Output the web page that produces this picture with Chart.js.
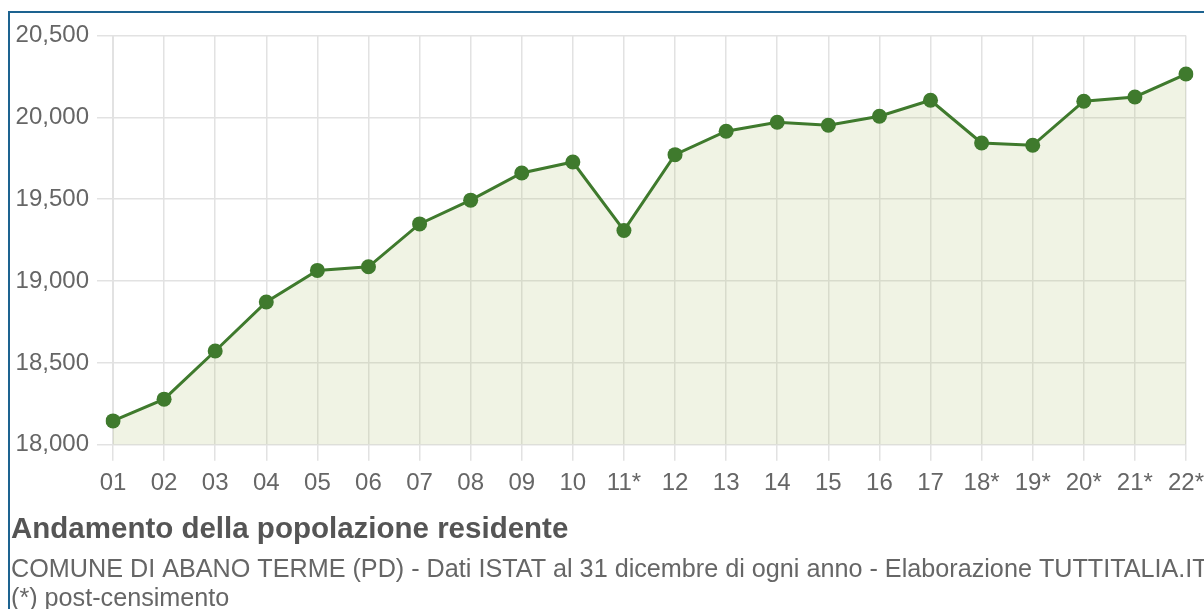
<!DOCTYPE html>
<html>
<head>
<meta charset="utf-8">
<script src="https://cdn.jsdelivr.net/npm/chart.js@4/dist/chart.umd.min.js"></script>
<style>
  html, body { margin: 0; padding: 0; background: #fff; overflow: hidden; }
  .box {
    position: absolute; left: 8px; top: 11px;
    width: 1300px; height: 700px;
    border: 2px solid #1d6390; box-sizing: border-box;
  }
  .wrap { position: absolute; left: 1px; top: 0; width: 1201px; height: 601px; }
</style>
</head>
<body>
<div class="box">
  <div class="wrap"><canvas id="popChart"></canvas></div>
</div>
<script>
var anni = ["01", "02", "03", "04", "05", "06", "07", "08", "09", "10", "11*",
            "12", "13", "14", "15", "16", "17", "18*", "19*", "20*", "21*", "22*"];
var popolazione = [18146, 18279, 18573, 18872, 19065, 19087, 19349, 19494, 19660, 19727, 19309,
                   19772, 19915, 19970, 19951, 20006, 20104, 19843, 19829, 20098, 20124, 20264];
var yMin = 18000, yMax = 20500, yStep = 500;

var titolo = "Andamento della popolazione residente";
var sottotitolo = [
  "COMUNE DI ABANO TERME (PD) - Dati ISTAT al 31 dicembre di ogni anno - Elaborazione TUTTITALIA.IT",
  "(*) post-censimento"
];

Chart.defaults.font.family = "'Liberation Sans', Arial, sans-serif";
Chart.defaults.color = '#666';

var ctx = document.getElementById("popChart");
var myChart = new Chart(ctx, {
  type: 'line',
  data: {
    labels: anni,
    datasets: [{
      data: popolazione,
      borderColor: '#3f7a2d',
      backgroundColor: 'rgba(180, 195, 120, 0.2)',
      borderWidth: 3,
      fill: 'start',
      tension: 0,
      pointRadius: 7.5,
      pointHoverRadius: 7.5,
      pointBackgroundColor: '#3f7a2d',
      pointBorderColor: '#3f7a2d',
      pointBorderWidth: 0
    }]
  },
  options: {
    responsive: true,
    maintainAspectRatio: false,
    animation: false,
    layout: { padding: { top: 19, left: 0, right: 0, bottom: 0 } },
    plugins: {
      legend: { display: false },
      tooltip: { enabled: false },
      title: {
        display: true,
        text: titolo,
        position: 'bottom',
        align: 'start',
        weight: 1000,
        color: '#555',
        font: { size: 29.5, weight: 'bold' },
        padding: { top: 7, bottom: 7 }
      },
      subtitle: {
        display: true,
        text: sottotitolo,
        position: 'bottom',
        align: 'start',
        color: '#666',
        font: { size: 25.2, lineHeight: 1.17 },
        padding: 0
      }
    },
    scales: {
      x: {
        grid: { color: '#e2e2e2', lineWidth: 1.5, tickLength: 16 },
        border: { color: '#e2e2e2' },
        ticks: { font: { size: 24 }, padding: 8, maxRotation: 0, autoSkip: false }
      },
      y: {
        min: yMin,
        max: yMax,
        afterFit: function (scale) { scale.width = 102; },
        grid: { color: '#e2e2e2', lineWidth: 1.5, tickLength: 16 },
        border: { color: '#e2e2e2' },
        ticks: { stepSize: yStep, font: { size: 24 }, padding: 8 }
      }
    }
  }
});
</script>
</body>
</html>
